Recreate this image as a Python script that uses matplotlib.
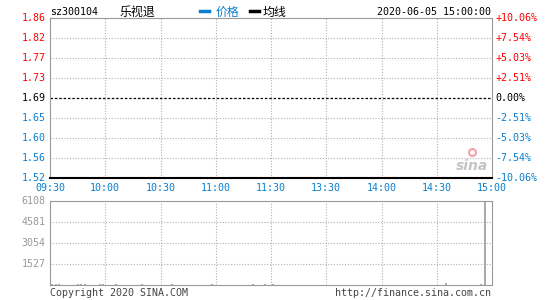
import matplotlib as mpl
mpl.use('Agg')
import matplotlib.pyplot as plt
import numpy as np

plt.rcParams['font.family'] = ['DejaVu Sans Mono', 'Noto Sans CJK SC']

# chart data
code = 'sz300104'
name = '乐视退'
stamp = '2020-06-05 15:00:00'
price_labels = ['1.86', '1.82', '1.77', '1.73', '1.69', '1.65', '1.60', '1.56', '1.52']
pct_labels = ['+10.06%', '+7.54%', '+5.03%', '+2.51%', '0.00%',
              '-2.51%', '-5.03%', '-7.54%', '-10.06%']
time_labels = ['09:30', '10:00', '10:30', '11:00', '11:30',
               '13:30', '14:00', '14:30', '15:00']
vol_ticks = [1527, 3054, 4581, 6108]
# minute index (0..240) and volume of the few trades seen
vol_minute = [1, 3, 5, 15, 17, 19, 27, 29, 36, 50, 66, 88, 110, 117, 121, 215, 234, 236]
vol_value = [60, 60, 60, 60, 60, 90, 60, 60, 60, 60, 60, 60, 60, 60, 60, 120, 100, 6108]

RED = '#ff0000'
BLUE = '#0a7fcf'
GRAY = '#999999'
GRID = '#b0b0b0'
FS = 7.2

W, H = 545, 300
fig = plt.figure(figsize=(W / 100, H / 100), dpi=100)


def px_axes(x0, y0, x1, y1):
    return fig.add_axes([x0 / W, 1 - y1 / H, (x1 - x0) / W, (y1 - y0) / H])


def ftext(x, y, s, **kw):
    fig.text(x / W, 1 - y / H, s, fontsize=kw.pop('fontsize', FS), **kw)


# price panel
ax = px_axes(50, 18, 492, 178)
n = len(price_labels)
ypos = np.arange(n)[::-1]
xpos = np.linspace(0, 240, len(time_labels))
ax.set_xlim(0, 240)
ax.set_ylim(0, n - 1)
ax.set_xticks([])
ax.set_yticks([])
for s in ['top', 'left', 'right']:
    ax.spines[s].set_color(GRAY)
ax.spines['bottom'].set_color('black')
ax.spines['bottom'].set_linewidth(1.5)
for x in xpos[1:-1]:
    ax.axvline(x, color=GRID, ls=(0, (1, 1.5)), lw=0.8)
for i, y in enumerate(ypos):
    if price_labels[i] == '1.69':
        ax.axhline(y, color='black', ls=(0, (2, 1.5)), lw=0.9)
    elif 0 < y < n - 1:
        ax.axhline(y, color=GRID, ls=(0, (1, 1.5)), lw=0.8)
    col = RED if i < 4 else ('black' if i == 4 else BLUE)
    ax.text(-0.01, y, price_labels[i], transform=ax.get_yaxis_transform(),
            ha='right', va='center', color=col, fontsize=FS)
    ax.text(1.008, y, pct_labels[i], transform=ax.get_yaxis_transform(),
            ha='left', va='center', color=col, fontsize=FS)
for x, lab in zip(xpos, time_labels):
    ax.text(x, -0.065, lab, transform=ax.get_xaxis_transform(),
            ha='center', va='center', color=BLUE, fontsize=FS)

# sina watermark
ax.text(0.955, 0.075, 'sina', transform=ax.transAxes, ha='center', va='center',
        fontsize=10, fontstyle='italic', fontweight='bold', color='#c4c4c4',
        family='DejaVu Sans')
ax.plot([0.955], [0.16], marker='o', ms=5, mfc='none', mec='#f4a0a8', mew=1.5,
        transform=ax.transAxes, clip_on=False)

# volume panel
av = px_axes(50, 201, 492, 285)
av.set_xlim(0, 240)
av.set_ylim(0, vol_ticks[-1])
av.set_xticks([])
av.set_yticks([])
for s in av.spines.values():
    s.set_color(GRAY)
for x in xpos[1:-1]:
    av.axvline(x, color=GRID, ls=(0, (1, 1.5)), lw=0.8)
for v in vol_ticks:
    if v < vol_ticks[-1]:
        av.axhline(v, color=GRID, ls=(0, (1, 1.5)), lw=0.8)
    av.text(-0.01, v, str(v), transform=av.get_yaxis_transform(),
            ha='right', va='center', color=GRAY, fontsize=FS)
av.vlines(vol_minute, 0, vol_value, color=GRAY, lw=1.2)

# header
ftext(50, 12, code, va='center', color='black')
ftext(120, 12, name, va='center', color='black', fontsize=8.6,
      family=['Noto Sans CJK SC', 'DejaVu Sans'])
fig.add_artist(plt.Line2D([200 / W, 209 / W], [1 - 11 / H] * 2, color=BLUE, lw=2.5))
ftext(216, 12, '价格', va='center', color=BLUE, fontsize=8.6,
      family=['Noto Sans CJK SC', 'DejaVu Sans'])
fig.add_artist(plt.Line2D([250 / W, 259 / W], [1 - 11 / H] * 2, color='black', lw=2.5))
ftext(263, 12, '均线', va='center', color='black', fontsize=8.6,
      family=['Noto Sans CJK SC', 'DejaVu Sans'])
ftext(491, 12, stamp, va='center', ha='right', color='black')

# footer
ftext(50, 293, 'Copyright 2020 SINA.COM', va='center', color='#444444')
ftext(491, 293, 'http://finance.sina.com.cn', va='center', ha='right', color='#444444')

fig.savefig('out.png', dpi=100)
